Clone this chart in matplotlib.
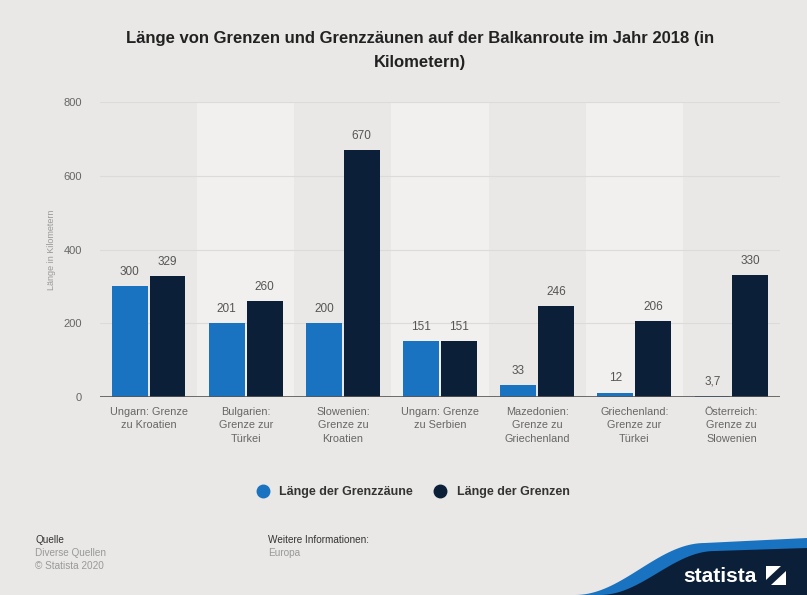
import numpy as np
import matplotlib
matplotlib.use("Agg")
import matplotlib.pyplot as plt
from matplotlib.patches import Polygon

plt.rcParams['font.family'] = ['Liberation Sans', 'DejaVu Sans']

categories = ['Ungarn: Grenze\nzu Kroatien', 'Bulgarien:\nGrenze zur\nTürkei',
              'Slowenien:\nGrenze zu\nKroatien', 'Ungarn: Grenze\nzu Serbien',
              'Mazedonien:\nGrenze zu\nGriechenland', 'Griechenland:\nGrenze zur\nTürkei',
              'Österreich:\nGrenze zu\nSlowenien']
zaeune = [300, 201, 200, 151, 33, 12, 3.7]
grenzen = [329, 260, 670, 151, 246, 206, 330]
zaeune_labels = ['300', '201', '200', '151', '33', '12', '3,7']
grenzen_labels = ['329', '260', '670', '151', '246', '206', '330']
yticks = [0, 200, 400, 600, 800]

blue = '#1a73c0'
navy = '#0c1f38'
bg = '#e9e8e6'

W, H = 807, 595
fig = plt.figure(figsize=(W / 100, H / 100), dpi=100, facecolor=bg)
ax = fig.add_axes([100 / W, 1 - 397 / H, 680 / W, 295 / H], facecolor=bg)

x = np.arange(len(categories))
for i in x:
    if i % 2 == 1:
        ax.axvspan(i - 0.5, i + 0.5, color='#f1f0ef', zorder=0, lw=0)

for t in yticks[1:]:
    ax.axhline(t, color='#dcdbd9', lw=0.8, zorder=1)

w = 0.37
off = 0.195
ax.bar(x - off, zaeune, w, color=blue, zorder=2, label='Länge der Grenzzäune')
ax.bar(x + off, grenzen, w, color=navy, zorder=2, label='Länge der Grenzen')

for i in x:
    ax.text(i - off, zaeune[i] + 22, zaeune_labels[i], ha='center', va='bottom',
            fontsize=8.5, color='#555555')
    ax.text(i + off, grenzen[i] + 22, grenzen_labels[i], ha='center', va='bottom',
            fontsize=8.5, color='#555555')

ax.axhline(0, color='#555555', lw=1.2, zorder=3)
ax.set_xlim(-0.5, len(categories) - 0.5)
ax.set_ylim(0, 800)
ax.set_yticks(yticks)
ax.set_yticklabels([str(t) for t in yticks], fontsize=8, color='#666666')
ax.set_xticks(x)
ax.set_xticklabels(categories, fontsize=7.8, color='#666666', linespacing=1.45)
ax.tick_params(axis='both', length=0)
ax.tick_params(axis='y', pad=13)
ax.tick_params(axis='x', pad=7)
for s in ax.spines.values():
    s.set_visible(False)
ax.set_ylabel('Länge in Kilometern', fontsize=6.5, color='#999999', labelpad=5)

fig.text(420 / W, 1 - 38 / H, 'Länge von Grenzen und Grenzzäunen auf der Balkanroute im Jahr 2018 (in',
         ha='center', va='center', fontsize=12, fontweight='bold', color='#222222')
fig.text(420 / W, 1 - 62 / H, 'Kilometern)',
         ha='center', va='center', fontsize=12, fontweight='bold', color='#222222')

leg = fig.legend(handles=[
    plt.Line2D([], [], marker='o', ls='', color=blue, markersize=9),
    plt.Line2D([], [], marker='o', ls='', color=navy, markersize=9)],
    labels=['Länge der Grenzzäune', 'Länge der Grenzen'],
    loc='center', bbox_to_anchor=(410 / W, 1 - 492 / H), ncol=2, frameon=False,
    handletextpad=0.3, columnspacing=1.2, prop={'weight': 'bold', 'size': 9})
for t in leg.get_texts():
    t.set_color('#333333')

fig.text(35 / W, 1 - 540 / H, 'Quelle', fontsize=7.2, color='#333333', va='center')
fig.text(35 / W, 1 - 553 / H, 'Diverse Quellen', fontsize=7.2, color='#999999', va='center')
fig.text(35 / W, 1 - 566 / H, '© Statista 2020', fontsize=7.2, color='#999999', va='center')
fig.text(268 / W, 1 - 540 / H, 'Weitere Informationen:', fontsize=7.2, color='#333333', va='center')
fig.text(268 / W, 1 - 553 / H, 'Europa', fontsize=7.2, color='#999999', va='center')

# statista logo corner
tt = np.linspace(0, 1, 40)
def curve(x0, x1, y0, y1):
    s = 0.5 - 0.5 * np.cos(np.pi * tt)
    return x0 + (x1 - x0) * tt, y0 + (y1 - y0) * s

cx, cy = curve(575, 705, 595, 543)
swoosh = np.vstack([np.column_stack([cx, cy]), [[807, 538], [807, 595]]])
cx2, cy2 = curve(600, 715, 595, 551)
dark = np.vstack([np.column_stack([cx2, cy2]), [[807, 548], [807, 595]]])
for pts, col in [(swoosh, '#1a73c0'), (dark, '#0c1f38')]:
    p = pts.copy()
    p[:, 0] = p[:, 0] / W
    p[:, 1] = 1 - p[:, 1] / H
    fig.add_artist(Polygon(p, closed=True, transform=fig.transFigure, color=col, lw=0))

fig.text(720 / W, 1 - 576 / H, 'statista', fontsize=15, color='white',
         ha='center', va='center', fontweight='bold')
icon = np.array([[766, 585], [786, 585], [786, 566], [766, 566]], dtype=float)
icon[:, 0] /= W
icon[:, 1] = 1 - icon[:, 1] / H
fig.add_artist(Polygon(icon, closed=True, transform=fig.transFigure, color='white', lw=0))
diag = np.array([[766, 580], [781, 566], [786, 566], [786, 571], [771, 585], [766, 585]], dtype=float)
diag[:, 0] /= W
diag[:, 1] = 1 - diag[:, 1] / H
fig.add_artist(Polygon(diag, closed=True, transform=fig.transFigure, color='#0c1f38', lw=0))

fig.savefig('out.png', dpi=100, facecolor=bg)
